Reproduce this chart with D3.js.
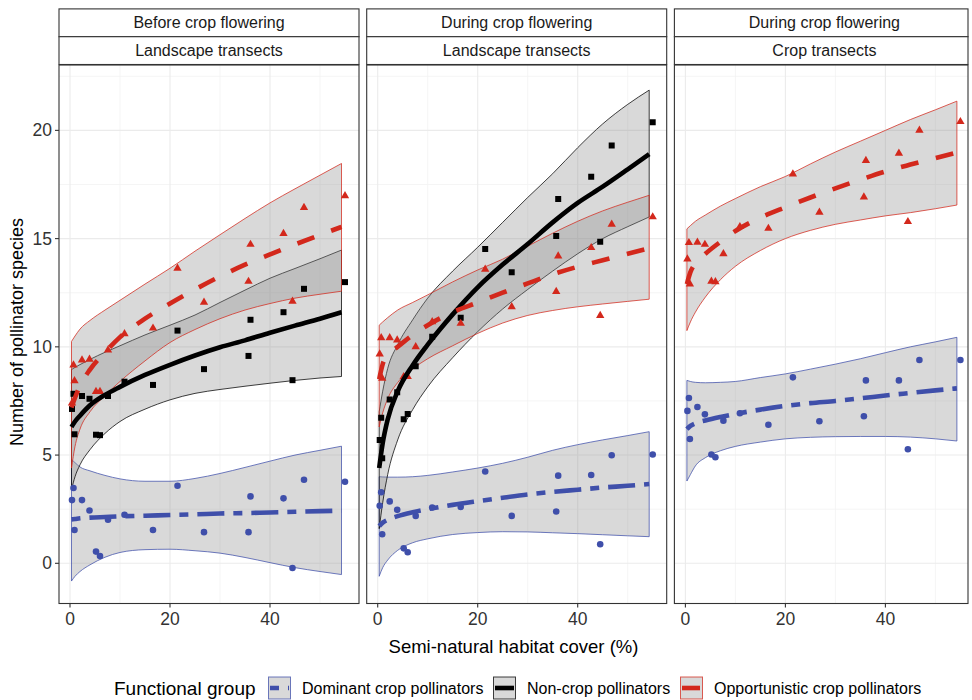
<!DOCTYPE html>
<html>
<head>
<meta charset="utf-8">
<script src="https://cdn.jsdelivr.net/npm/d3@7"></script>
<style>
  body { margin: 0; background: #fff; }
  svg { display: block; font-family: "Liberation Sans", Arial, sans-serif; }
</style>
</head>
<body>
<svg id="chart" width="972" height="700"></svg>
<script>
// ---------------- DATA ----------------
const groups = ["Dominant crop pollinators", "Non-crop pollinators", "Opportunistic crop pollinators"];
const stripTop = ["Before crop flowering", "During crop flowering", "During crop flowering"];
const stripBottom = ["Landscape transects", "Landscape transects", "Crop transects"];
const xTicks = [0, 20, 40];
const yTicks = [0, 5, 10, 15, 20];

// semi-natural habitat cover (%) of the sampled sites
const siteCover = [0.4, 0.7, 0.9, 2.4, 3.9, 5.2, 6.0, 7.6, 10.9, 16.6, 21.5, 26.8, 35.7, 36.1, 42.7, 44.5, 46.8, 55.0];

// observed species numbers per site
const dominantBeforeLand = [2.92, 3.48, 1.54, 2.92, 2.44, 0.54, 0.34, 2.01, 2.24, 1.54, 3.58, 1.44, 1.44, 3.09, 3.0, -0.22, 3.86, 3.77];
const nonCropBeforeLand  = [7.13, 7.83, 5.96, 7.73, 7.6, 5.94, 5.92, 7.73, 8.39, 8.24, 10.75, 8.97, 9.58, 11.25, 11.6, 8.46, 12.68, 12.99];
const opportBeforeLand   = [7.4, 9.16, 8.43, 9.39, 9.42, 7.93, 7.93, 9.85, 10.6, 10.86, 13.63, 12.06, 13.02, 14.73, 15.23, 12.1, 16.43, 16.98];

const dominantDuringLand = [2.66, 3.28, 1.34, 2.86, 2.47, 0.69, 0.51, 2.19, 2.58, 2.6, 4.24, 2.19, 2.39, 4.05, 4.08, 0.88, 4.99, 5.03];
const nonCropDuringLand  = [5.7, 6.72, 4.85, 7.57, 7.9, 6.65, 6.9, 9.1, 10.47, 11.34, 14.52, 13.45, 15.12, 16.83, 17.86, 14.85, 19.3, 20.38];
const opportDuringLand   = [9.67, 10.42, 8.55, 10.42, 10.31, 8.62, 8.62, 10.0, 11.16, 11.08, 13.58, 11.85, 12.55, 14.19, 14.58, 11.44, 15.66, 16.0];

const dominantDuringCrop = [7.04, 7.64, 5.74, 7.22, 6.88, 5.03, 4.9, 6.59, 6.93, 6.4, 8.59, 6.56, 6.79, 8.45, 8.45, 5.27, 9.39, 9.39];
const opportDuringCrop   = [14.05, 14.81, 12.9, 14.83, 14.73, 13.03, 13.0, 14.3, 15.55, 15.47, 17.98, 16.21, 16.92, 18.6, 18.94, 15.78, 20.0, 20.4];

// fitted curves with 95% confidence bands
const fitCover = [0.3, 1, 2, 4, 7, 10, 15, 20, 25, 30, 35, 40, 45, 50, 54.3];

const dominantFitBL  = [2.03, 2.05, 2.08, 2.11, 2.14, 2.17, 2.2, 2.23, 2.26, 2.3, 2.32, 2.35, 2.38, 2.41, 2.43];
const dominantLowBL  = [-0.82, -0.6, -0.38, -0.07, 0.28, 0.5, 0.63, 0.65, 0.58, 0.47, 0.27, 0.03, -0.2, -0.38, -0.52];
const dominantHighBL = [4.8, 4.65, 4.45, 4.27, 4.06, 3.9, 3.79, 3.79, 3.92, 4.15, 4.43, 4.72, 5.0, 5.22, 5.41];
const nonCropFitBL   = [6.3, 6.55, 6.82, 7.3, 7.78, 8.15, 8.7, 9.17, 9.6, 9.98, 10.3, 10.65, 10.98, 11.3, 11.6];
const nonCropLowBL   = [3.4, 4.0, 4.55, 5.25, 6.0, 6.55, 7.12, 7.55, 7.85, 8.03, 8.18, 8.32, 8.45, 8.56, 8.63];
const nonCropHighBL  = [8.95, 9.05, 9.18, 9.42, 9.75, 10.05, 10.55, 11.0, 11.47, 12.05, 12.62, 13.17, 13.62, 14.07, 14.47];
const opportFitBL    = [7.2, 7.65, 8.2, 8.95, 9.75, 10.45, 11.3, 12.0, 12.65, 13.25, 13.8, 14.27, 14.73, 15.17, 15.54];
const opportLowBL    = [4.4, 5.4, 6.2, 7.0, 7.75, 8.4, 9.35, 10.2, 10.8, 11.3, 11.7, 12.0, 12.25, 12.43, 12.57];
const opportHighBL   = [10.25, 10.5, 10.82, 11.22, 11.7, 12.15, 12.9, 13.63, 14.42, 15.18, 15.93, 16.65, 17.3, 17.93, 18.47];

const dominantFitDL  = [1.72, 1.88, 2.01, 2.18, 2.36, 2.5, 2.7, 2.87, 3.03, 3.18, 3.3, 3.4, 3.5, 3.58, 3.66];
const dominantLowDL  = [-0.6, -0.2, 0.15, 0.6, 0.95, 1.13, 1.33, 1.42, 1.46, 1.45, 1.41, 1.37, 1.32, 1.27, 1.23];
const dominantHighDL = [4.0, 3.99, 3.98, 3.98, 4.0, 4.06, 4.22, 4.4, 4.62, 4.9, 5.22, 5.48, 5.7, 5.9, 6.08];
const nonCropFitDL   = [4.4, 5.55, 6.65, 7.95, 9.15, 10.1, 11.5, 12.75, 13.8, 14.75, 15.75, 16.65, 17.4, 18.2, 18.9];
const nonCropLowDL   = [1.6, 2.8, 4.1, 5.7, 7.1, 8.15, 9.5, 10.7, 11.75, 12.65, 13.5, 14.3, 15.0, 15.55, 16.0];
const nonCropHighDL  = [7.0, 7.95, 9.0, 10.1, 11.25, 12.25, 13.5, 14.6, 15.75, 16.9, 18.0, 19.2, 20.3, 21.2, 21.86];
const opportFitDL    = [8.5, 9.2, 9.6, 10.0, 10.55, 11.0, 11.6, 12.05, 12.5, 12.93, 13.35, 13.7, 14.0, 14.3, 14.55];
const opportLowDL    = [6.3, 6.95, 7.6, 8.35, 8.98, 9.45, 10.05, 10.62, 11.1, 11.45, 11.68, 11.85, 11.98, 12.1, 12.2];
const opportHighDL   = [11.0, 11.15, 11.35, 11.7, 12.05, 12.4, 13.0, 13.55, 14.05, 14.65, 15.25, 15.8, 16.28, 16.68, 17.0];

const dominantFitDC  = [6.2, 6.35, 6.47, 6.6, 6.76, 6.9, 7.1, 7.27, 7.4, 7.5, 7.62, 7.75, 7.87, 7.99, 8.08];
const dominantLowDC  = [3.8, 4.1, 4.5, 4.88, 5.2, 5.4, 5.6, 5.75, 5.82, 5.85, 5.86, 5.86, 5.83, 5.75, 5.65];
const dominantHighDC = [8.45, 8.4, 8.36, 8.34, 8.36, 8.4, 8.58, 8.75, 8.97, 9.2, 9.45, 9.73, 10.0, 10.23, 10.44];
const opportFitDC    = [12.9, 13.45, 13.85, 14.3, 14.85, 15.35, 15.97, 16.45, 16.9, 17.32, 17.72, 18.1, 18.42, 18.72, 18.98];
const opportLowDC    = [10.75, 11.15, 11.6, 12.3, 13.1, 13.72, 14.45, 15.0, 15.38, 15.66, 15.86, 16.05, 16.2, 16.38, 16.55];
const opportHighDC   = [15.45, 15.6, 15.8, 16.09, 16.5, 16.85, 17.4, 17.87, 18.45, 19.0, 19.5, 20.0, 20.5, 20.95, 21.35];

// ---------------- BUILD ----------------
const style = {
  "Dominant crop pollinators":      { color: "#3F4FAA", dash: "9,9,27,9", shape: "circle" },
  "Non-crop pollinators":           { color: "#000000", dash: null,       shape: "square" },
  "Opportunistic crop pollinators": { color: "#D3281C", dash: "18,18",    shape: "triangle" }
};

function series(group, obs, fit, low, high) {
  return {
    group,
    points: siteCover.map((x, i) => ({ x, y: obs[i] })),
    curve: fitCover.map((x, i) => ({ x, fit: fit[i], low: low[i], high: high[i] }))
  };
}

const panels = [
  { top: stripTop[0], bottom: stripBottom[0], series: [
    series(groups[0], dominantBeforeLand, dominantFitBL, dominantLowBL, dominantHighBL),
    series(groups[1], nonCropBeforeLand, nonCropFitBL, nonCropLowBL, nonCropHighBL),
    series(groups[2], opportBeforeLand, opportFitBL, opportLowBL, opportHighBL)
  ]},
  { top: stripTop[1], bottom: stripBottom[1], series: [
    series(groups[0], dominantDuringLand, dominantFitDL, dominantLowDL, dominantHighDL),
    series(groups[1], nonCropDuringLand, nonCropFitDL, nonCropLowDL, nonCropHighDL),
    series(groups[2], opportDuringLand, opportFitDL, opportLowDL, opportHighDL)
  ]},
  { top: stripTop[2], bottom: stripBottom[2], series: [
    series(groups[0], dominantDuringCrop, dominantFitDC, dominantLowDC, dominantHighDC),
    series(groups[2], opportDuringCrop, opportFitDC, opportLowDC, opportHighDC)
  ]}
];

// ---------------- LAYOUT ----------------
const svg = d3.select("#chart");
const panelLeft = [59, 366.7, 674.4];
const panelW = [300, 300, 293.6];
const panelTop = 65, panelH = 538.5;
const stripH = 27.8;
const fullW = 300;

const x = d3.scaleLinear().domain([-2.2, 57.8]).range([0, fullW]);
const y = d3.scaleLinear().domain([-1.857, 23.02]).range([panelH, 0]);

const defs = svg.append("defs");

panels.forEach((p, k) => {
  const g = svg.append("g").attr("transform", `translate(${panelLeft[k]},${panelTop})`);
  const w = panelW[k];
  defs.append("clipPath").attr("id", "clip" + k)
    .append("rect").attr("x", 0).attr("y", 0).attr("width", w).attr("height", panelH);

  const grid = g.append("g").attr("clip-path", `url(#clip${k})`);
  // minor grid
  [10, 30, 50].forEach(v => grid.append("line")
    .attr("x1", x(v)).attr("x2", x(v)).attr("y1", 0).attr("y2", panelH)
    .attr("stroke", "#f3f3f3").attr("stroke-width", 0.8));
  [-2.5, 2.5, 7.5, 12.5, 17.5, 22.5].forEach(v => grid.append("line")
    .attr("x1", 0).attr("x2", w).attr("y1", y(v)).attr("y2", y(v))
    .attr("stroke", "#f3f3f3").attr("stroke-width", 0.8));
  // major grid
  xTicks.forEach(v => grid.append("line")
    .attr("x1", x(v)).attr("x2", x(v)).attr("y1", 0).attr("y2", panelH)
    .attr("stroke", "#ebebeb").attr("stroke-width", 1.1));
  yTicks.forEach(v => grid.append("line")
    .attr("x1", 0).attr("x2", w).attr("y1", y(v)).attr("y2", y(v))
    .attr("stroke", "#ebebeb").attr("stroke-width", 1.1));

  const plot = g.append("g").attr("clip-path", `url(#clip${k})`);

  const area = d3.area().x(d => x(d.x)).y0(d => y(d.low)).y1(d => y(d.high)).curve(d3.curveMonotoneX);
  const line = d3.line().x(d => x(d.x)).y(d => y(d.fit)).curve(d3.curveMonotoneX);

  // ribbons
  p.series.forEach(s => {
    const st = style[s.group];
    plot.append("path").datum(s.curve).attr("d", area)
      .attr("fill", "#8c8c8c").attr("fill-opacity", 0.33)
      .attr("stroke", st.color).attr("stroke-opacity", 0.75).attr("stroke-width", 1);
  });

  // points
  p.series.forEach(s => {
    const st = style[s.group];
    const sym = st.shape === "circle" ? d3.symbolCircle : st.shape === "square" ? d3.symbolSquare : d3.symbolTriangle;
    const size = st.shape === "circle" ? 34 : st.shape === "square" ? 36 : 30;
    plot.append("g").selectAll("path").data(s.points).join("path")
      .attr("transform", d => `translate(${x(d.x)},${y(d.y)})`)
      .attr("d", d3.symbol().type(sym).size(size))
      .attr("fill", st.color);
  });

  // fitted lines
  p.series.forEach(s => {
    const st = style[s.group];
    plot.append("path").datum(s.curve).attr("d", line)
      .attr("fill", "none").attr("stroke", st.color)
      .attr("stroke-width", 4.6)
      .attr("stroke-dasharray", st.dash);
  });

  // border
  g.append("rect").attr("x", 0).attr("y", 0).attr("width", w).attr("height", panelH)
    .attr("fill", "none").attr("stroke", "#333").attr("stroke-width", 1.1);

  // strips
  [p.top, p.bottom].forEach((t, j) => {
    const sy = -2 * stripH + j * stripH - 0.5;
    g.append("rect").attr("x", 0).attr("y", sy).attr("width", w).attr("height", stripH)
      .attr("fill", "#fff").attr("stroke", "#333").attr("stroke-width", 1.1);
    g.append("text").attr("x", fullW / 2).attr("y", sy + stripH / 2)
      .attr("text-anchor", "middle").attr("dominant-baseline", "central")
      .attr("font-size", 16).attr("fill", "#1a1a1a").text(t);
  });

  // x axis ticks and labels
  xTicks.forEach(v => {
    g.append("line").attr("x1", x(v)).attr("x2", x(v)).attr("y1", panelH).attr("y2", panelH + 4)
      .attr("stroke", "#333").attr("stroke-width", 1.1);
    g.append("text").attr("x", x(v)).attr("y", panelH + 15.5)
      .attr("text-anchor", "middle").attr("dominant-baseline", "central")
      .attr("font-size", 17.5).attr("fill", "#333").text(v);
  });

  if (k === 0) {
    yTicks.forEach(v => {
      g.append("line").attr("x1", -4).attr("x2", 0).attr("y1", y(v)).attr("y2", y(v))
        .attr("stroke", "#333").attr("stroke-width", 1.1);
      g.append("text").attr("x", -7).attr("y", y(v))
        .attr("text-anchor", "end").attr("dominant-baseline", "central")
        .attr("font-size", 17.5).attr("fill", "#333").text(v);
    });
  }
});

// axis titles
svg.append("text").attr("x", 513.5).attr("y", 646)
  .attr("text-anchor", "middle").attr("dominant-baseline", "central")
  .attr("font-size", 18.5).attr("fill", "#000").text("Semi-natural habitat cover (%)");
svg.append("text").attr("transform", "translate(17,332) rotate(-90)")
  .attr("text-anchor", "middle").attr("dominant-baseline", "central")
  .attr("font-size", 18).attr("fill", "#000").text("Number of pollinator species");

// legend
const legY = 688;
svg.append("text").attr("x", 114).attr("y", legY)
  .attr("dominant-baseline", "central").attr("font-size", 19).attr("fill", "#000").text("Functional group");
const keyX = [268, 493, 680];
groups.forEach((gname, i) => {
  const st = style[gname];
  const kg = svg.append("g").attr("transform", `translate(${keyX[i]},${legY - 11.5})`);
  kg.append("rect").attr("x", 0.5).attr("y", 0.5).attr("width", 22).attr("height", 22)
    .attr("fill", "#d9d9d9").attr("stroke", st.color).attr("stroke-opacity", 0.75).attr("stroke-width", 1);
  kg.append("line").attr("x1", 2).attr("x2", 21).attr("y1", 11.5).attr("y2", 11.5)
    .attr("stroke", st.color).attr("stroke-width", 4.6).attr("stroke-dasharray", st.dash);
  svg.append("text").attr("x", keyX[i] + 34).attr("y", legY)
    .attr("dominant-baseline", "central").attr("font-size", 16).attr("fill", "#000").text(gname);
});
</script>
</body>
</html>
